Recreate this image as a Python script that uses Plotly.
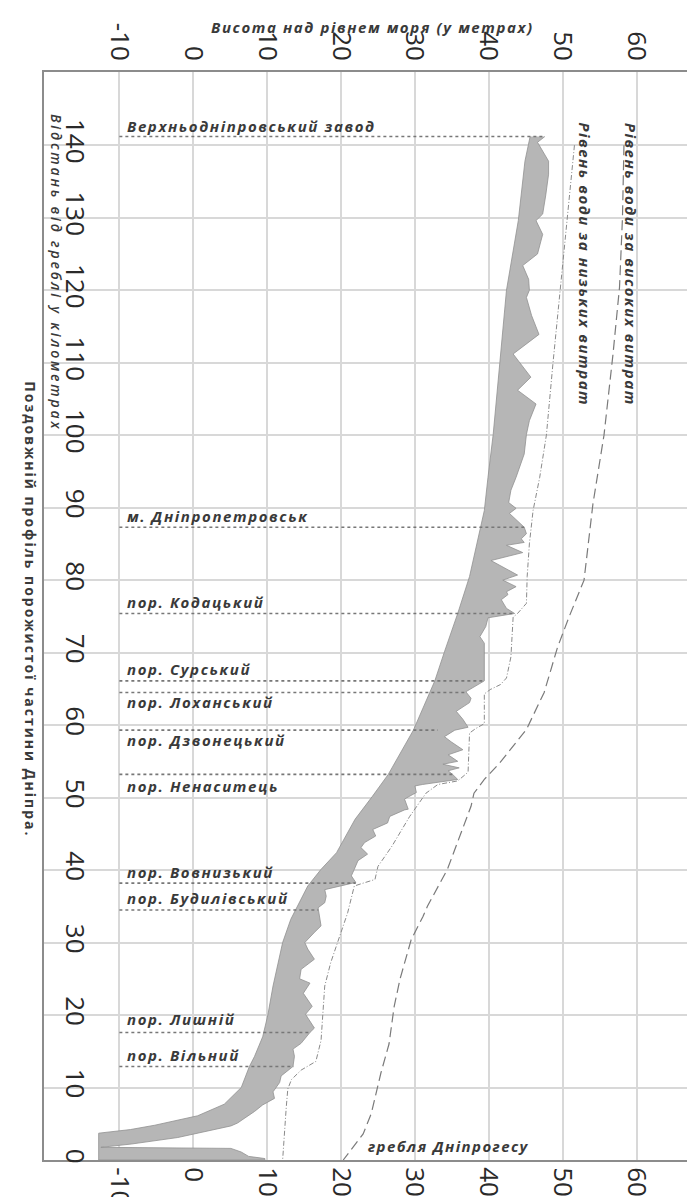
import plotly.graph_objects as go

# ---- data (distance from dam, km ; height above sea level, m) ----
surf_km = [141.2, 140.4, 137.8, 136.0, 133.0, 130.5, 129.6, 127.7, 125.0, 123.4, 121.5, 120.0,
           119.0, 116.5, 113.9, 111.2, 108.0, 106.2, 104.3, 102.0, 100.1, 97.4, 94.2, 92.4,
           90.7, 89.9, 89.2, 87.3, 86.4, 85.7, 85.2, 84.8, 83.8, 82.7, 80.7, 80.0, 79.1, 78.4,
           78.0, 77.3, 76.1, 75.4, 74.8, 73.6, 72.2, 71.3, 66.1, 65.4, 64.6, 63.7, 63.1, 61.9,
           60.8, 59.7, 59.3, 58.4, 57.7, 56.6, 55.9, 55.0, 54.6, 54.1, 53.7, 53.2, 52.5, 51.8,
           51.6, 50.7, 49.8, 48.4, 48.3, 47.4, 46.5, 45.6, 44.7, 43.8, 43.1, 42.2, 41.3, 40.1,
           39.2, 38.3, 37.3, 36.4, 35.5, 34.8, 33.7, 32.3, 31.4, 30.0, 29.1, 27.7, 26.3, 25.0,
           24.4, 23.0, 21.2, 20.1, 18.2, 17.6, 16.1, 15.3, 14.3, 12.9, 11.6, 10.7, 9.4, 8.5,
           7.6, 6.7, 5.8, 5.1, 4.7, 4.0, 3.1, 2.2, 1.75, 1.6, 1.1, 0.5, 0.2, 0.0]
surf_h = [47.6, 46.6, 48.1, 48.1, 47.7, 47.3, 46.4, 47.3, 46.6, 44.6, 45.4, 45.5,
          45.1, 45.8, 46.8, 43.3, 45.7, 43.9, 46.4, 45.5, 45.1, 44.8, 43.7, 43.0,
          42.7, 43.7, 42.8, 44.8, 45.1, 44.4, 44.8, 42.4, 44.6, 40.3, 43.9, 41.9, 43.7, 42.4,
          42.6, 41.7, 42.4, 43.5, 39.9, 39.6, 38.8, 39.4, 39.4, 38.3, 36.9, 37.6, 37.4, 35.6,
          36.5, 37.2, 35.4, 34.0, 34.9, 36.5, 34.5, 35.8, 33.8, 36.0, 34.5, 35.1, 35.8, 31.0,
          30.0, 30.2, 28.6, 29.1, 28.6, 26.6, 26.3, 24.3, 24.7, 23.2, 22.7, 23.6, 22.3, 21.8,
          21.4, 22.0, 17.8, 18.0, 17.8, 16.9, 17.1, 17.3, 16.4, 15.1, 15.5, 16.4, 14.6, 14.4,
          15.8, 14.9, 16.1, 15.2, 16.4, 15.8, 14.6, 13.5, 13.7, 13.5, 11.9, 11.7, 10.8, 11.0,
          9.4, 8.3, 7.0, 6.0, 5.1, 2.0, -2.1, -8.4, -12.5, 5.1, 6.5, 7.5, 9.7, 9.7]

bed_km = [0.0, 3.6, 3.7, 4.2, 4.8, 6.1, 7.7, 10.0, 12.9, 14.3, 17.0, 20.0, 24.0, 30.0, 33.2,
          37.8, 40.1, 42.4, 47.0, 50.1, 53.2, 59.3, 66.1, 70.1, 75.4, 80.5, 89.6, 94.2, 100.1,
          110.0, 120.0, 129.6, 137.8, 141.2]
bed_h = [-12.8, -12.8, -12.8, -8.5, -5.2, 0.6, 4.2, 6.5, 7.6, 8.3, 9.4, 10.1, 10.8, 12.1, 13.2,
         15.5, 17.3, 19.4, 21.9, 24.2, 26.4, 29.8, 32.7, 34.0, 35.8, 37.4, 39.4, 39.9, 40.6,
         41.5, 42.4, 44.0, 44.9, 45.6]

low_km = [140, 130, 120, 110, 100, 94.2, 89.6, 85, 80.5, 76.8, 75.4, 74.9, 69.4, 66.5, 65.6,
          64.9, 64.3, 60.2, 59.5, 58.9, 53.5, 52.3, 51.8, 50.6, 47.4, 43.3, 40.5, 38.7, 38.1,
          37.8, 34.1, 30.9, 27.2, 24.0, 21.2, 16.5, 13.6, 13.0, 12.4, 11.1, 9.8, 7.4, 0]
low_h = [51.6, 50.6, 49.6, 48.7, 47.8, 46.9, 46.0, 45.5, 45.2, 45.1, 43.9, 43.3, 43.0, 42.4, 41.6,
         40.2, 39.4, 39.4, 38.2, 37.4, 37.2, 35.8, 33.1, 31.5, 29.3, 26.9, 25.0, 24.6, 22.7,
         21.8, 20.9, 19.8, 18.6, 17.8, 17.6, 17.3, 16.6, 15.5, 14.6, 13.3, 12.8, 12.6, 12.1]

high_km = [140, 130, 120.4, 111, 100, 90.5, 80, 75, 70.7, 64.5, 59.4, 54.8, 52.5, 50.6, 48.8,
           45, 40.1, 35, 33.6, 30.4, 25, 21.2, 16, 12, 6.4, 3.6, 0]
high_h = [58.3, 58.1, 57.7, 56.8, 55.6, 54.1, 52.9, 50.9, 49.3, 47.5, 45.1, 41.5, 39.4, 38.0, 37.6,
          36.2, 34.4, 31.7, 31.1, 29.5, 28.0, 27.2, 26.5, 25.4, 24.1, 23.0, 20.3]

place_names = ["Верхньодніпровський завод", "м. Дніпропетровськ", "пор. Кодацький",
               "пор. Сурський", "пор. Лоханський", "пор. Дзвонецький", "пор. Ненаситець",
               "пор. Вовнизький", "пор. Будилівський", "пор. Лишній", "пор. Вільний"]
place_km = [141.2, 87.3, 75.4, 66.1, 64.5, 59.3, 53.2, 38.2, 34.5, 17.6, 12.9]
place_end_h = [47.6, 44.8, 43.5, 39.4, 36.9, 33.1, 35.1, 22.0, 16.9, 15.8, 13.6]
place_label_km = [142.7, 88.8, 77.0, 67.8, 63.2, 58.0, 51.6, 39.8, 36.1, 19.4, 14.5]
place_start_h = -10

height_ticks = [-10, 0, 10, 20, 30, 40, 50, 60]
km_ticks = [0, 10, 20, 30, 40, 50, 60, 70, 80, 90, 100, 110, 120, 130, 140]

# ---- figure ----
FONT = "Open Sans"
TXT = "#3a3a3a"


def spaced(s, px):
    return '<span style="letter-spacing:%spx">%s</span>' % (px, s)


fig = go.Figure()

# grey profile band
poly_x = surf_h + bed_h
poly_y = surf_km + bed_km
fig.add_trace(go.Scatter(x=poly_x, y=poly_y, mode="lines", fill="toself",
                         fillcolor="#b6b6b6", line=dict(color="#909090", width=0.8),
                         hoverinfo="skip", showlegend=False))

# water levels
fig.add_trace(go.Scatter(x=low_h, y=low_km, mode="lines",
                         line=dict(color="#8a8a8a", width=1, dash="5px,2px,1px,2px"),
                         showlegend=False, hoverinfo="skip"))
fig.add_trace(go.Scatter(x=high_h, y=high_km, mode="lines",
                         line=dict(color="#7a7a7a", width=1.2, dash="10px,5px"),
                         showlegend=False, hoverinfo="skip"))

# dotted place lines
for km, eh in zip(place_km, place_end_h):
    fig.add_trace(go.Scatter(x=[place_start_h, eh], y=[km, km], mode="lines",
                             line=dict(color="#777777", width=1.6, dash="3px,3px"),
                             showlegend=False, hoverinfo="skip"))

# invisible traces that activate the top x axis and the label y axis
fig.add_trace(go.Scatter(x=[0], y=[0], xaxis="x2", yaxis="y", mode="markers",
                         marker=dict(opacity=0), showlegend=False, hoverinfo="skip"))
fig.add_trace(go.Scatter(x=[0], y=[0], xaxis="x", yaxis="y2", mode="markers",
                         marker=dict(opacity=0), showlegend=False, hoverinfo="skip"))

lab_font = dict(family=FONT, size=15, color=TXT, weight="bold", style="italic")
annotations = []
for name, lk in zip(place_names, place_label_km):
    annotations.append(dict(x=-9.2, y=lk, xref="x", yref="y", text=spaced(name, 1.6),
                            showarrow=False, xanchor="left", yanchor="middle", font=lab_font))

annotations += [
    dict(x=34.6, y=1.9, xref="x", yref="y", text=spaced("гребля Дніпрогесу", 1.4),
         showarrow=False, xanchor="center", yanchor="middle", font=lab_font),
    dict(x=59.3, y=123.6, xref="x", yref="y", text=spaced("Рівень води за високих витрат", 1.55),
         showarrow=False, textangle=90, xanchor="center", yanchor="middle", font=lab_font),
    dict(x=53.0, y=123.6, xref="x", yref="y", text=spaced("Рівень води за низьких витрат", 1.55),
         showarrow=False, textangle=90, xanchor="center", yanchor="middle", font=lab_font),
    dict(x=-18.6, y=122.4, xref="x", yref="y",
         text=spaced("Відстань від греблі у кілометрах", 2.8),
         showarrow=False, textangle=90, xanchor="center", yanchor="middle",
         font=dict(family=FONT, size=14, color=TXT, style="italic", weight=600)),
    dict(x=24.2, y=1.041, xref="x", yref="paper",
         text=spaced("Висота над рівнем моря (у метрах)", 1.6),
         showarrow=False, xanchor="center", yanchor="middle", font=lab_font),
    dict(x=-0.021, y=0.506, xref="paper", yref="paper",
         text=spaced("Поздовжній профіль порожистої частини Дніпра.", 2.0),
         showarrow=False, textangle=90, xanchor="center", yanchor="middle",
         font=dict(family=FONT, size=14, color=TXT, weight="bold")),
]

axis_line = "#8c8c8c"
grid = "#d8d8d8"
tickfont = dict(family=FONT, size=26, color="#2a2a2a")

fig.update_layout(
    width=695, height=1197,
    margin=dict(l=36, r=0, t=64, b=43),
    paper_bgcolor="white", plot_bgcolor="white",
    showlegend=False,
    annotations=annotations,
    xaxis=dict(range=[-20.2, 69.0], tickvals=height_ticks, ticktext=[str(v) for v in height_ticks],
               tickangle=90, showgrid=True, gridcolor=grid, gridwidth=1.5, zeroline=False,
               showline=True, linecolor=axis_line, linewidth=2, ticks="", tickfont=tickfont,
               side="bottom"),
    xaxis2=dict(range=[-20.2, 69.0], matches="x", overlaying="x", side="top",
                tickvals=height_ticks, ticktext=[str(v) for v in height_ticks],
                tickangle=90, showgrid=False, zeroline=False, showline=True,
                linecolor=axis_line, linewidth=2, ticks="", tickfont=tickfont),
    yaxis=dict(range=[0, 150.1], tickvals=km_ticks, showticklabels=False,
               showgrid=True, gridcolor=grid, gridwidth=1.5, zeroline=False,
               showline=True, linecolor=axis_line, linewidth=2, ticks=""),
    yaxis2=dict(range=[0, 150.1], matches="y", overlaying="y", anchor="free", position=0.073,
                side="left", tickvals=km_ticks, ticktext=[str(v) for v in km_ticks],
                tickangle=90, showgrid=False, zeroline=False, showline=False, ticks="",
                tickfont=tickfont),
)

fig.write_html("out.html")
